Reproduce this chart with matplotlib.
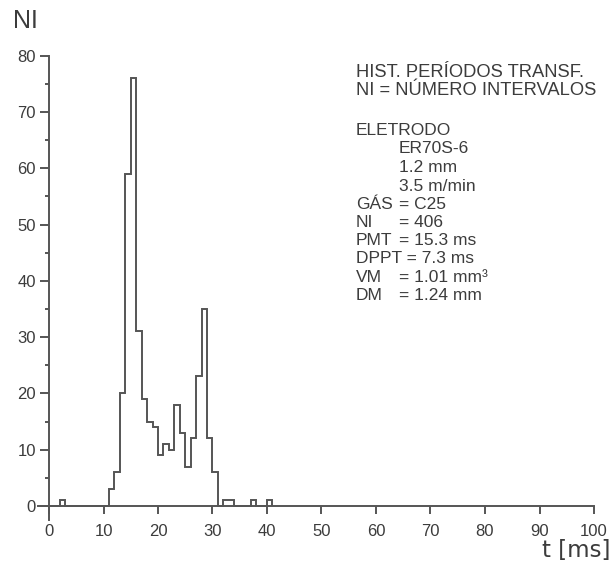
import numpy as np
import matplotlib.pyplot as plt

# histogram of transfer periods, 1 ms bins starting at 0 ms
bin_edges = np.arange(0, 42)
counts = [0, 0, 1, 0, 0, 0, 0, 0, 0, 0,
          0, 3, 6, 20, 59, 76, 31, 19, 15, 14,
          9, 11, 10, 18, 13, 7, 12, 23, 35, 12,
          6, 0, 1, 1, 0, 0, 0, 1, 0, 0,
          1]

x_ticks = np.arange(0, 101, 10)
y_ticks = np.arange(0, 81, 10)

title_lines = ["HIST. PERÍODOS TRANSF.", "NI = NÚMERO INTERVALOS"]
info_names = ["ELETRODO", "", "", "", "GÁS", "NI", "PMT", "DPPT = 7.3 ms", "VM", "DM"]
info_values = ["", "ER70S-6", "1.2 mm", "3.5 m/min", "= C25", "= 406", "= 15.3 ms",
               "", "= 1.01 mm³", "= 1.24 mm"]

plt.rcParams['font.family'] = ['Liberation Sans', 'DejaVu Sans']
line_col = '#555555'
text_col = '#3c3c3c'

W, H = 613, 563
fig = plt.figure(figsize=(W / 100, H / 100), dpi=100)

# axes box in pixels: x from -2 ms (38 px) to 100 ms (594 px), y from -2.5 (520 px) to 80 (56 px)
ax = fig.add_axes([38.1 / W, 1 - 520 / H, (594 - 38.1) / W, (520 - 55.7) / H])
ax.stairs(counts, bin_edges, color=line_col, lw=1.4, baseline=0)

ax.set_xlim(-2, 100)
ax.set_ylim(-2.5, 80)
for s in ['top', 'right']:
    ax.spines[s].set_visible(False)
for s in ['left', 'bottom']:
    ax.spines[s].set_position(('data', 0))
    ax.spines[s].set_color(line_col)
    ax.spines[s].set_linewidth(1.4)
ax.spines['bottom'].set_bounds(-2, 100)
ax.spines['left'].set_bounds(-2.5, 80)

ax.set_xticks(x_ticks)
ax.set_yticks(y_ticks)
ax.set_yticks(np.arange(5, 80, 10), minor=True)
ax.tick_params(axis='both', which='major', color=line_col, width=1.4, labelsize=12,
               labelcolor=text_col)
ax.tick_params(axis='x', which='major', length=6, pad=7)
ax.tick_params(axis='y', which='major', length=6.5, pad=3)
ax.tick_params(axis='y', which='minor', length=3.2, width=1.4, color=line_col)

fig.text(13 / W, 1 - 28 / H, "NI", fontsize=18, color=text_col, va='baseline')
fig.text(611 / W, 1 - 557 / H, "t [ms]", fontsize=16.5, color=text_col, va='baseline',
         ha='right', family='DejaVu Sans')

# text block on the right
x_name, x_val = 356, 399
for txt, yb in zip(title_lines, [77, 95]):
    fig.text(x_name / W, 1 - yb / H, txt, fontsize=13.2, color=text_col, va='baseline')
base_y = [135, 153, 172, 191, 209, 227, 245, 263, 282, 300]
for name, val, yb in zip(info_names, info_values, base_y):
    if name:
        fig.text(x_name / W, 1 - yb / H, name, fontsize=12.5, color=text_col, va='baseline')
    if val:
        fig.text(x_val / W, 1 - yb / H, val, fontsize=12.5, color=text_col, va='baseline')

fig.savefig('out.png', dpi=100)
